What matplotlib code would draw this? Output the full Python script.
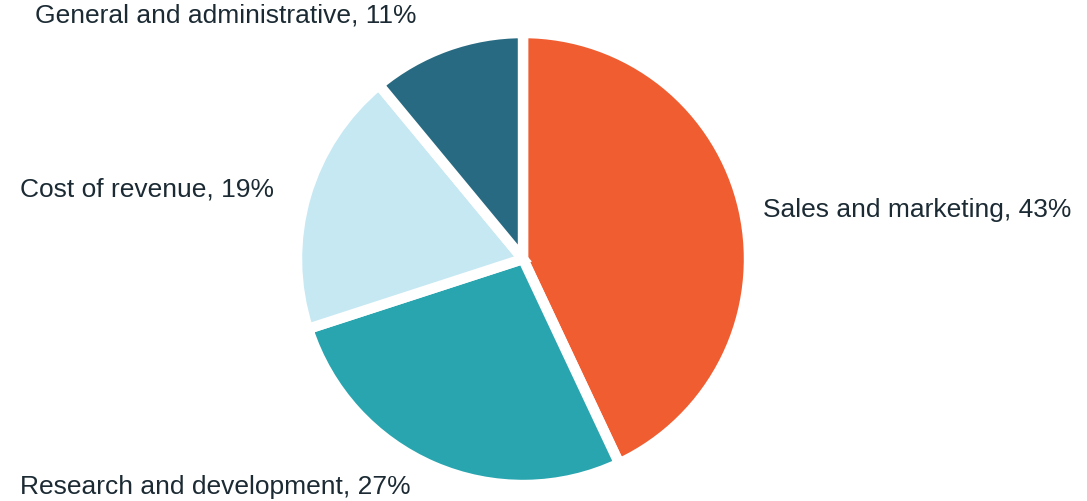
import matplotlib
matplotlib.use("Agg")
import matplotlib.pyplot as plt

categories = ['Sales and marketing', 'Research and development', 'Cost of revenue', 'General and administrative']
shares = [43, 27, 19, 11]
colors = ['#F05D31', '#29A5B0', '#C5E8F3', '#286A82']

plt.rcParams['font.family'] = ['Liberation Sans', 'DejaVu Sans']

W, H = 1087, 502
fig = plt.figure(figsize=(W / 100, H / 100), dpi=100)
# pie centre ~(523, 260) px, radius ~226 px
cx, cy, r = 523, 260, 226
ax = fig.add_axes([(cx - r) / W, (H - cy - r) / H, 2 * r / W, 2 * r / H])
ax.pie(shares, colors=colors, startangle=90, counterclock=False,
       wedgeprops=dict(edgecolor='white', linewidth=7.5))
ax.set_xlim(-1, 1)
ax.set_ylim(-1, 1)
ax.set_aspect('equal')
ax.axis('off')

# label anchors (left edge, vertical centre) in pixels
label_pos = [(763, 210), (20, 487), (20, 190), (35, 16)]
for name, val, (x, y) in zip(categories, shares, label_pos):
    fig.text(x / W, 1 - y / H, f'{name}, {val}%', fontsize=19, color='#1B2A33',
             ha='left', va='center')

fig.savefig('out.png', dpi=100)
